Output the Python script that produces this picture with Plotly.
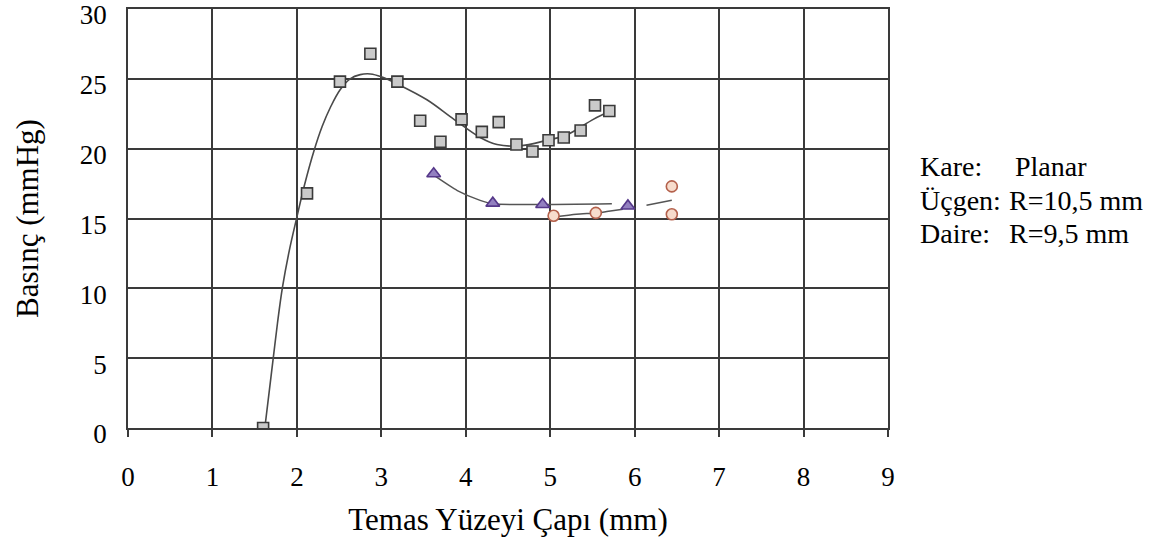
import plotly.graph_objects as go

# Square series (Kare: Planar)
sq_x = [1.60, 2.12, 2.51, 2.87, 3.19, 3.46, 3.70, 3.95, 4.19, 4.39, 4.60, 4.79, 4.98, 5.16, 5.36, 5.53, 5.70]
sq_y = [0.0, 16.8, 24.8, 26.8, 24.8, 22.0, 20.5, 22.1, 21.2, 21.9, 20.3, 19.8, 20.6, 20.8, 21.3, 23.1, 22.7]
# Triangle series (Üçgen: R=10,5 mm)
tr_x = [3.62, 4.32, 4.91, 5.92]
tr_y = [18.2, 16.1, 16.0, 15.9]
# Circle series (Daire: R=9,5 mm)
ci_x = [5.04, 5.54, 6.44, 6.44]
ci_y = [15.2, 15.4, 17.3, 15.3]

# Trend curves
sq_fit_x = [1.62, 1.67, 1.72, 1.77, 1.83, 1.91, 2.00, 2.09, 2.20, 2.30, 2.40, 2.51, 2.63, 2.75, 2.87, 3.00, 3.20, 3.54, 3.86, 4.17, 4.37, 4.64, 4.96, 5.20, 5.51, 5.71]
sq_fit_y = [0.0, 2.5, 5.0, 7.5, 10.1, 12.7, 15.1, 17.4, 19.8, 21.6, 23.0, 24.2, 25.0, 25.3, 25.35, 25.15, 24.6, 23.5, 22.1, 20.8, 20.3, 20.2, 20.6, 21.0, 22.1, 22.7]
tr_fit_x = [3.62, 3.90, 4.17, 4.32, 5.73, None, 6.14, 6.44]
tr_fit_y = [18.1, 17.0, 16.3, 16.05, 16.05, None, 15.95, 16.3]
ci_fit_x = [5.04, 5.31, 5.55, 5.67, 5.86]
ci_fit_y = [15.1, 15.3, 15.4, 15.5, 15.66]

x_ticks = [0, 1, 2, 3, 4, 5, 6, 7, 8, 9]
y_ticks = [0, 5, 10, 15, 20, 25, 30]

legend_labels = ["Kare:", "Üçgen:", "Daire:"]
legend_values = ["Planar", "R=10,5 mm", "R=9,5 mm"]

FONT = "Liberation Serif, Times New Roman, serif"
GRID = "#3a3a3a"

fig = go.Figure()
fig.add_trace(go.Scatter(x=sq_fit_x, y=sq_fit_y, mode="lines", line=dict(color="#4a4a4a", width=1.6, shape="spline", smoothing=1.0), hoverinfo="skip"))
fig.add_trace(go.Scatter(x=tr_fit_x, y=tr_fit_y, mode="lines", line=dict(color="#555555", width=1.5, shape="spline", smoothing=0.6), hoverinfo="skip", connectgaps=False))
fig.add_trace(go.Scatter(x=ci_fit_x, y=ci_fit_y, mode="lines", line=dict(color="#555555", width=1.5, shape="spline", smoothing=0.6), hoverinfo="skip"))

fig.add_trace(go.Scatter(x=sq_x, y=sq_y, mode="markers",
                         marker=dict(symbol="square", size=11, color="#cacaca", line=dict(color="#3a3a3a", width=1.6))))
fig.add_trace(go.Scatter(x=tr_x, y=tr_y, mode="markers",
                         marker=dict(symbol="triangle-up", size=12, color="#9380c0", line=dict(color="#56388a", width=1.6))))
fig.add_trace(go.Scatter(x=ci_x, y=ci_y, mode="markers",
                         marker=dict(symbol="circle", size=11, color="#f7dccc", line=dict(color="#b4614c", width=1.6))))

row_y = [0.623, 0.544, 0.465]
value_x = [1.165, 1.156, 1.156]
for lab, val, yy, vx in zip(legend_labels, legend_values, row_y, value_x):
    fig.add_annotation(xref="paper", yref="paper", x=1.0395, y=yy, text=lab, showarrow=False,
                       xanchor="left", yanchor="middle", font=dict(family=FONT, size=28, color="black"))
    fig.add_annotation(xref="paper", yref="paper", x=vx, y=yy, text=val, showarrow=False,
                       xanchor="left", yanchor="middle", font=dict(family=FONT, size=28, color="black"))

fig.update_layout(
    width=1165, height=546,
    margin=dict(l=128, r=277, t=9, b=118, autoexpand=False),
    paper_bgcolor="white", plot_bgcolor="white",
    showlegend=False,
    font=dict(family=FONT, size=27, color="black"),
)
fig.update_xaxes(range=[0, 9], tickvals=x_ticks, showgrid=True, gridcolor=GRID, gridwidth=1.6,
                 showline=True, linecolor=GRID, linewidth=1.6, mirror=True, automargin=False,
                 ticks="outside", ticklen=7, tickcolor=GRID, tickwidth=1.5, zeroline=False,
                 tickfont=dict(family=FONT, size=27), ticklabelstandoff=17,
                 title=dict(text="Temas Yüzeyi Çapı (mm)", font=dict(family=FONT, size=31), standoff=17))
fig.update_yaxes(range=[0, 30], tickvals=y_ticks, showgrid=True, gridcolor=GRID, gridwidth=1.6,
                 showline=True, linecolor=GRID, linewidth=1.6, mirror=True, automargin=False,
                 ticks="", zeroline=False, ticklabeloverflow="allow", ticklabelshift=6,
                 tickfont=dict(family=FONT, size=27), ticklabelstandoff=14,
                 title=dict(text="Basınç (mmHg)", font=dict(family=FONT, size=31), standoff=32))

fig.write_html("out.html")
